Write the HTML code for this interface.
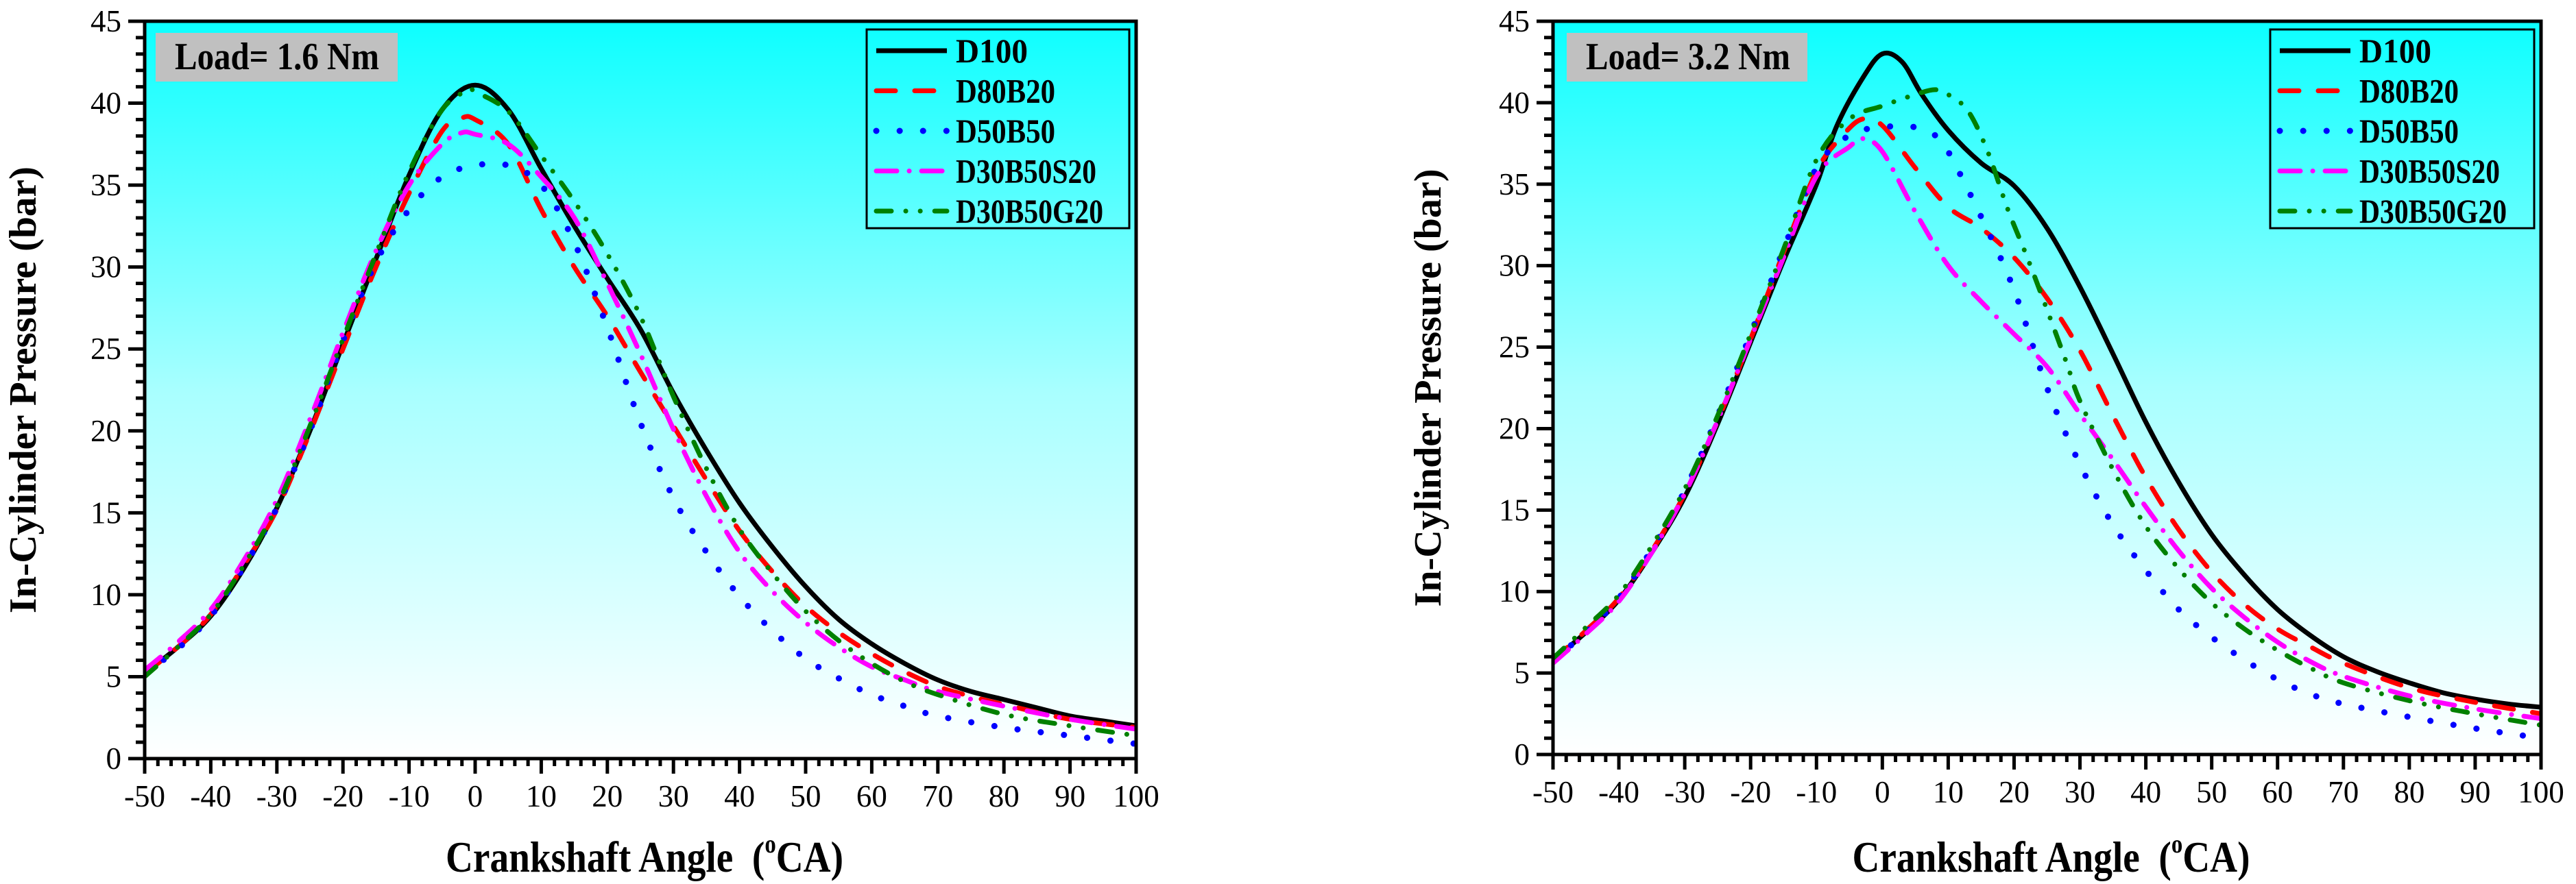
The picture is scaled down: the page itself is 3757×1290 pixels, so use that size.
<!DOCTYPE html>
<html><head><meta charset="utf-8"><style>
html,body{margin:0;padding:0;background:#fff;}
svg{display:block;font-family:"Liberation Serif",serif;}
</style></head><body>
<svg id="svg" width="3757" height="1290" viewBox="0 0 3757 1290" xmlns="http://www.w3.org/2000/svg">
<defs>
<linearGradient id="bg" x1="0" y1="0" x2="0" y2="1">
<stop offset="0" stop-color="#0cffff"/><stop offset="0.5" stop-color="#a8ffff"/><stop offset="1" stop-color="#ffffff"/>
</linearGradient>
</defs>
</svg>
<script>
const NS="http://www.w3.org/2000/svg";
const seriesNames=["D100","D80B20","D50B50","D30B50S20","D30B50G20"];
const xTicks=[-50,-40,-30,-20,-10,0,10,20,30,40,50,60,70,80,90,100];
const yTicks=[0,5,10,15,20,25,30,35,40,45];
// Left chart (Load 1.6 Nm): [angle, pressure]
const L_D100=[[-50,5.2],[-45,6.8],[-40,8.7],[-35,11.6],[-30,15.3],[-25,20],[-20,25.3],[-15,30.5],[-10,35.6],[-5,39.6],[0,41.1],[5,39.6],[10,36],[15,32.5],[20,29.3],[25,26.2],[30,22.3],[35,18.8],[40,15.6],[45,12.9],[50,10.5],[55,8.5],[60,7.0],[65,5.8],[70,4.8],[75,4.1],[80,3.6],[85,3.1],[90,2.6],[95,2.3],[100,2.0]];
const L_D80B20=[[-50,5.2],[-45,6.8],[-40,8.8],[-35,11.8],[-30,15.2],[-25,19.9],[-20,25],[-15,30],[-10,34.5],[-5,38.3],[-2,39.1],[0,39],[5,37.5],[10,33.5],[15,30],[20,27],[25,23.6],[30,20.3],[35,17],[40,13.9],[45,11.4],[50,9.3],[55,7.7],[60,6.4],[65,5.3],[70,4.4],[75,3.8],[80,3.3],[90,2.4],[100,1.9]];
const L_D50B50=[[-50,5.2],[-45,6.7],[-40,8.7],[-35,11.7],[-30,15.3],[-25,20],[-20,25.5],[-15,30.3],[-10,33.5],[-5,35.5],[0,36.2],[5,36.2],[10,35],[15,31.5],[20,26.3],[25,20.5],[30,15.9],[35,12.6],[40,9.9],[45,7.8],[50,6.1],[55,4.9],[60,3.9],[65,3.2],[70,2.6],[80,1.9],[90,1.4],[100,0.9]];
const L_D30B50S20=[[-50,5.4],[-45,7.1],[-40,9.1],[-35,12.1],[-30,15.8],[-25,20.7],[-20,26],[-15,31],[-10,35],[-5,37.5],[-2,38.2],[0,38.1],[5,37.5],[10,35.5],[15,33],[20,29],[25,24.7],[30,20.1],[35,16],[40,12.6],[45,10.2],[50,8.3],[55,6.8],[60,5.6],[65,4.8],[70,4.1],[80,3.2],[90,2.4],[100,1.8]];
const L_D30B50G20=[[-50,5.0],[-45,6.8],[-40,8.8],[-35,11.8],[-30,15.4],[-25,20.3],[-20,25.6],[-15,30.8],[-10,35.8],[-5,39.6],[-1,40.8],[0,40.7],[5,39.5],[10,36.8],[15,34],[20,30.8],[25,27],[30,22.1],[35,17.7],[40,14],[45,11.3],[50,9],[55,7.2],[60,5.8],[65,4.7],[70,3.9],[80,2.7],[90,2.0],[100,1.4]];
// Right chart (Load 3.2 Nm)
const R_D100=[[-50,5.8],[-45,7.5],[-40,9.5],[-35,12.4],[-30,15.8],[-25,20.3],[-20,25.3],[-15,30.3],[-10,35],[-7,38.5],[-3,41.5],[0,43],[3,42.5],[6,40.5],[10,38.3],[15,36.3],[20,34.9],[25,32.3],[30,28.7],[35,24.6],[40,20.4],[45,16.7],[50,13.5],[55,11],[60,8.9],[65,7.3],[70,6.0],[75,5.1],[80,4.4],[85,3.8],[90,3.4],[95,3.1],[100,2.9]];
const R_D80B20=[[-50,5.8],[-45,7.6],[-40,9.6],[-35,12.5],[-30,16],[-25,20.5],[-20,25.5],[-15,30.8],[-10,35.8],[-6,38],[-3,39],[0,38.6],[5,36],[10,33.6],[15,32.3],[20,30.5],[25,28],[30,24.8],[35,20.8],[40,17],[45,13.8],[50,11.2],[55,9.2],[60,7.7],[65,6.6],[70,5.6],[80,4.1],[90,3.2],[100,2.5]];
const R_D50B50=[[-50,5.8],[-45,7.5],[-40,9.6],[-35,12.6],[-30,16.2],[-25,20.8],[-20,25.8],[-15,31],[-10,36],[-5,38],[0,38.5],[5,38.5],[8,38],[10,37],[15,33],[20,28.5],[25,22.5],[30,17.8],[35,14.1],[40,11.3],[45,8.9],[50,7.2],[55,5.8],[60,4.6],[65,3.7],[70,3.1],[80,2.3],[90,1.6],[100,1.0]];
const R_D30B50S20=[[-50,5.6],[-45,7.4],[-40,9.4],[-35,12.4],[-30,16],[-25,20.5],[-20,25.5],[-15,30.5],[-10,35.5],[-5,37.3],[-3,37.8],[0,37],[5,33.3],[10,30],[15,27.8],[20,25.8],[25,23.8],[30,20.9],[35,18.1],[40,15.2],[45,12.5],[50,10.2],[55,8.4],[60,6.9],[65,5.7],[70,4.8],[80,3.6],[90,2.8],[100,2.2]];
const R_D30B50G20=[[-50,5.9],[-45,7.8],[-40,9.8],[-35,12.8],[-30,16.3],[-25,20.8],[-20,25.8],[-15,31],[-10,36.5],[-5,39],[0,39.8],[5,40.5],[8,40.8],[10,40.5],[13,39.5],[16,37],[19,33.5],[22,30.5],[25,27.3],[28,24],[30,21.7],[35,17.5],[40,14],[45,11.4],[50,9.3],[55,7.7],[60,6.4],[65,5.3],[70,4.4],[80,3.3],[90,2.5],[100,1.8]];

const styles=[
 {c:"#000000",w:7,d:null,cap:"butt"},
 {c:"#ff0000",w:7,d:"28 28",cap:"round"},
 {c:"#0000ff",w:9,d:"0.1 34",cap:"round"},
 {c:"#ff00ff",w:7,d:"30 18 0.1 18",cap:"round"},
 {c:"#008000",w:7,d:"22 21 0.1 21 0.1 21",cap:"round"}];

const svg=document.getElementById('svg');
function mk(tag,attrs,parent){const e=document.createElementNS(NS,tag);for(const k in attrs)e.setAttribute(k,attrs[k]);(parent||svg).appendChild(e);return e;}
function pathFrom(pts){
 let d="M"+pts[0][0].toFixed(1)+","+pts[0][1].toFixed(1);
 for(let i=0;i<pts.length-1;i++){
  const p0=pts[Math.max(i-1,0)],p1=pts[i],p2=pts[i+1],p3=pts[Math.min(i+2,pts.length-1)];
  const c1=[p1[0]+(p2[0]-p0[0])/6,p1[1]+(p2[1]-p0[1])/6];
  const c2=[p2[0]-(p3[0]-p1[0])/6,p2[1]-(p3[1]-p1[1])/6];
  d+=" C"+c1[0].toFixed(1)+","+c1[1].toFixed(1)+" "+c2[0].toFixed(1)+","+c2[1].toFixed(1)+" "+p2[0].toFixed(1)+","+p2[1].toFixed(1);
 }
 return d;
}
function chart(cfg,data){
 const g=mk('g',{});
 
 
 const X=v=>cfg.x0+(v+50)/150*(cfg.x1-cfg.x0);
 const Y=v=>cfg.y0-v/45*(cfg.y0-cfg.y1);
 const bg=mk('rect',{x:cfg.x0,y:cfg.y1,width:cfg.x1-cfg.x0,height:cfg.y0-cfg.y1,fill:"url(#bg)"},g);
 
 
 const clip=mk('clipPath',{id:'clip'+cfg.id},g);
 mk('rect',{x:cfg.x0,y:cfg.y1,width:cfg.x1-cfg.x0,height:cfg.y0-cfg.y1},clip);
 const lines=mk('g',{'clip-path':'url(#clip'+cfg.id+')'},g);
 data.forEach((s,i)=>{
  const st=styles[i];
  const p=mk('path',{d:pathFrom(s.map(q=>[X(q[0]),Y(q[1])])),fill:"none",stroke:st.c,'stroke-width':st.w,'stroke-linecap':st.cap,'stroke-linejoin':'round'},lines);
  if(st.d)p.setAttribute('stroke-dasharray',st.d);
  
  
 });
 const fr=mk('rect',{x:cfg.x0,y:cfg.y1,width:cfg.x1-cfg.x0,height:cfg.y0-cfg.y1,fill:"none",stroke:"#000",'stroke-width':5},g);
 
 
 for(let v=0;v<=45;v++){
  const major=v%5===0;
  mk('line',{x1:cfg.x0-(major?24:13),x2:cfg.x0,y1:Y(v),y2:Y(v),stroke:"#000",'stroke-width':5},g);
 }
 yTicks.forEach(v=>{
  const t=mk('text',{x:cfg.x0-34,y:Y(v)+15,'text-anchor':'end','font-size':45},g);
  t.textContent=String(v);
  
  
 });
 for(let v=-50;v<=100;v+=2){
  const major=v%10===0;
  mk('line',{x1:X(v),x2:X(v),y1:cfg.y0,y2:cfg.y0+(major?22:11),stroke:"#000",'stroke-width':5},g);
 }
 xTicks.forEach(v=>{
  const t=mk('text',{x:X(v),y:cfg.y0+70,'text-anchor':'middle','font-size':45},g);
  t.textContent=String(v);
  
  
 });
 const lb=mk('rect',{x:cfg.lx,y:cfg.y1+17,width:cfg.lw,height:71,fill:"#c0c0c0"},g);
 
 
 const lt=mk('text',{x:cfg.lx+28,y:cfg.y1+70,'font-size':56,'font-weight':'bold',textLength:298,lengthAdjust:'spacingAndGlyphs'},g);
 lt.textContent=cfg.load;
 
 
 const lg=mk('g',{},g);
 
 
 mk('rect',{x:cfg.gx,y:cfg.y1+12,width:cfg.x1-10-cfg.gx,height:290,fill:"none",stroke:"#000",'stroke-width':3},lg);
 const legW=[105,145,145,205,215];
 seriesNames.forEach((n,i)=>{
  const st=styles[i];const yy=cfg.y1+43+i*58.5;
  const ln=mk('line',{x1:cfg.gx+14,x2:cfg.gx+117,y1:yy,y2:yy,stroke:st.c,'stroke-width':st.w,'stroke-linecap':st.cap},lg);
  if(st.d)ln.setAttribute('stroke-dasharray',st.d);
  
  
  const t=mk('text',{x:cfg.gx+130,y:yy+17,'font-size':50,'font-weight':'bold',textLength:legW[i],lengthAdjust:'spacingAndGlyphs'},lg);
  t.textContent=n;
  
  
 });
 const yt=mk('text',{transform:`translate(${cfg.ytx},${(cfg.y0+cfg.y1)/2}) rotate(-90)`,'text-anchor':'middle','font-size':56,'font-weight':'bold',textLength:cfg.ytl,lengthAdjust:'spacingAndGlyphs'},g);
 yt.textContent="In-Cylinder Pressure (bar)";
 
 
 const xt=mk('text',{x:(cfg.x0+cfg.x1)/2+6,y:1272,'text-anchor':'middle','font-size':64,'font-weight':'bold',textLength:580,lengthAdjust:'spacingAndGlyphs'},g);
 xt.innerHTML='Crankshaft Angle&#160; (<tspan font-size="38" dy="-28">o</tspan><tspan dy="28">CA)</tspan>';
 
 
}
chart({id:1,name:'chart-load-1-6',x0:211,x1:1657,y0:1107,y1:31,lx:227,lw:353,load:"Load= 1.6 Nm",gx:1264,ytx:52,ytl:652},
 [L_D100,L_D80B20,L_D50B50,L_D30B50S20,L_D30B50G20]);
chart({id:2,name:'chart-load-3-2',x0:2265,x1:3706,y0:1101,y1:31,lx:2285,lw:351,load:"Load= 3.2 Nm",gx:3311,ytx:2101,ytl:639},
 [R_D100,R_D80B20,R_D50B50,R_D30B50S20,R_D30B50G20]);
</script>
</body></html>
